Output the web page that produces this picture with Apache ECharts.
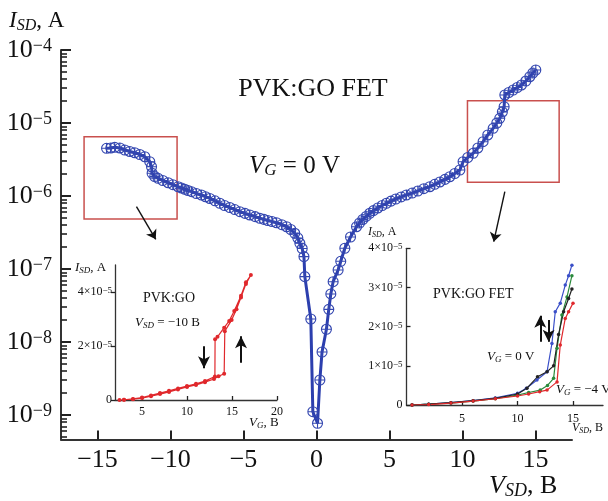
<!DOCTYPE html>
<html>
<head>
<meta charset="utf-8">
<script src="https://cdn.jsdelivr.net/npm/echarts@6.0.0/dist/echarts.min.js"></script>
<style>
html, body { margin: 0; padding: 0; background: #fff; }
#chart { width: 608px; height: 501px; }
</style>
</head>
<body>
<div id="chart"></div>
<script>
var SERIF = '"Liberation Serif","DejaVu Serif",serif';

// main I-V curve, V_G = 0 (log10 of I_SD in A)
var negV = [-14.38,-14.09,-13.82,-13.47,-13.13,-12.79,-12.45,-12.10,-11.76,-11.42,-11.30,-11.26,-11.08,-10.85,-10.53,-10.16,-9.84,-9.48,-9.25,-9.02,-8.80,-8.56,-8.23,-7.88,-7.60,-7.31,-6.95,-6.62,-6.30,-5.94,-5.60,-5.25,-4.90,-4.57,-4.20,-3.88,-3.60,-3.34,-3.05,-2.74,-2.38,-2.05,-1.76,-1.49,-1.28,-1.14,-0.98,-0.86,-0.80,-0.39,-0.25,0.07];
var negLgI = [-5.347,-5.342,-5.333,-5.342,-5.370,-5.390,-5.407,-5.432,-5.462,-5.530,-5.599,-5.689,-5.733,-5.758,-5.788,-5.818,-5.845,-5.873,-5.890,-5.908,-5.925,-5.941,-5.966,-5.986,-6.010,-6.034,-6.066,-6.100,-6.130,-6.158,-6.186,-6.215,-6.238,-6.260,-6.283,-6.305,-6.320,-6.336,-6.350,-6.366,-6.393,-6.421,-6.459,-6.511,-6.575,-6.648,-6.720,-6.830,-7.105,-7.685,-8.955,-9.114];
var posV = [0.23,0.38,0.68,0.84,0.98,1.14,1.48,1.66,1.94,2.33,2.74,2.95,3.17,3.40,3.65,3.90,4.20,4.50,4.79,5.10,5.43,5.80,6.16,6.55,6.94,7.35,7.76,8.10,8.45,8.80,9.13,9.47,9.82,10.04,10.36,10.73,11.05,11.41,11.73,12.10,12.35,12.55,12.73,12.85,12.90,13.17,13.47,13.75,14.04,14.34,14.61,14.82,15.02];
var posLgI = [-8.521,-8.137,-7.826,-7.553,-7.342,-7.174,-7.014,-6.895,-6.716,-6.562,-6.421,-6.370,-6.322,-6.280,-6.237,-6.200,-6.164,-6.130,-6.100,-6.070,-6.041,-6.013,-5.986,-5.960,-5.932,-5.900,-5.873,-5.840,-5.808,-5.773,-5.736,-5.692,-5.644,-5.530,-5.473,-5.415,-5.342,-5.256,-5.164,-5.073,-5.000,-4.936,-4.849,-4.777,-4.616,-4.582,-4.548,-4.514,-4.479,-4.425,-4.366,-4.315,-4.274];
var mainDecades = [-9,-8,-7,-6,-5,-4];
var mainXTicks = [-15,-10,-5,0,5,10,15];
var minorMult = [2,3,4,5,6,7,8,9];

// left inset: PVK:GO, V_SD = -10 B, I_SD (1e-6 A) vs V_G (sweep up then down)
var goVg  = [2.5,3,4,5,6,7,8,9,10,11,12,13,13.5,14.13,14.2,14.96,15.5,16.0,16.55,17.1,16.55,16.0,15.25,14.69,14.13,13.39,13.12,13.1,12,11,10,9,8,7,6,5,4,3];
var goIsd = [0,0.1,0.3,0.7,1.4,2.2,3.0,3.9,4.8,5.6,6.6,7.8,8.8,9.7,25.5,29.6,33.6,38.0,43.0,46.3,43.6,38.6,33.0,29.3,26.8,23.4,22.5,8.7,7.0,6.0,5.2,4.3,3.4,2.6,1.7,0.9,0.4,0.1];
var goYTicks = [0, 2e-5, 4e-5];
var goXTicks = [5,10,15,20];

// right inset: PVK:GO FET, I_SD (1e-6 A) vs V_SD for several V_G
var fetBlueV  = [0.5,2,4,6,8,10,10.8,11.75,12.66,13.1,13.4,13.85,14.3,14.6,14.9];
var fetBlueI  = [0,0.2,0.6,1.1,1.8,3.0,4.3,6.4,8.5,15.7,23.8,26.0,30.6,33.0,35.7];
var fetGreenV = [0.5,2,4,6,8,10,11,12.05,12.7,13.25,13.56,14.0,14.46,14.9];
var fetGreenI = [0,0.2,0.5,1.0,1.6,2.5,3.2,3.8,5.0,6.8,14.5,23.0,27.6,33.0];
var fetBlackV = [0.5,2,4,6,8,10,10.85,11.8,12.66,13.25,13.7,14.15,14.6,14.9];
var fetBlackI = [0,0.2,0.6,1.1,1.7,2.8,4.3,7.2,8.5,10.0,18.0,23.8,27.2,29.6];
var fetRedV   = [0.5,2,4,6,8,10,11,12.0,12.66,13.56,13.85,14.3,14.6,15.0];
var fetRedI   = [0,0.1,0.5,1.0,1.6,2.3,2.8,3.4,3.8,5.9,15.3,22.1,23.8,26.0];
var fetYTicks = [0, 1e-5, 2e-5, 3e-5, 4e-5];
var fetXTicks = [5,10,15];

function pairs(xs, ys, k) {
  var out = [];
  for (var i = 0; i < xs.length; i++) out.push([xs[i], ys[i] * (k || 1)]);
  return out;
}

var minorVals = [];
[-10,-9,-8,-7,-6,-5].forEach(function (d) {
  minorMult.forEach(function (m) {
    var v = d + Math.log10(m);
    if (v > -9.336) minorVals.push(v);
  });
});

function minusStr(v) { return v < 0 ? '\u2212' + (-v) : String(v); }

function subRich(big, small) {
  return {
    i: { fontFamily: SERIF, fontStyle: 'italic', fontSize: big, lineHeight: big + 2, fill: '#111' },
    s: { fontFamily: SERIF, fontStyle: 'italic', fontSize: small, lineHeight: small, verticalAlign: 'bottom', fill: '#111' },
    n: { fontFamily: SERIF, fontSize: big, lineHeight: big + 2, fill: '#111' }
  };
}
function gText(x, y, text, rich, align) {
  return { type: 'text', x: x, y: y, silent: true, z: 10,
    style: { text: text, rich: rich, align: align || 'left', verticalAlign: 'middle', fill: '#111' } };
}
function plainText(x, y, text, size, align) {
  return { type: 'text', x: x, y: y, silent: true, z: 10,
    style: { text: text, fontFamily: SERIF, fontSize: size, align: align || 'left', verticalAlign: 'middle', fill: '#111' } };
}

var supLabel = function (big, small) {
  return {
    b: { fontFamily: SERIF, fontSize: big, lineHeight: big, color: '#111' },
    s: { fontFamily: SERIF, fontSize: small, lineHeight: small, verticalAlign: 'top', color: '#111' }
  };
};

var circlePlus = 'path://M0,10A10,10,0,1,1,20,10A10,10,0,1,1,0,10ZM10,0L10,20M0,10L20,10';
var arrowLine = function (w) { return { color: '#111', width: w, type: 'solid' }; };
var tickStyle = function (w) { return { color: '#222', width: w }; };

var myChart = echarts.init(document.getElementById('chart'));
var option = {
  animation: false,
  grid: [
    { left: 61, top: 50, right: 36, bottom: 61.5 },
    { left: 115, top: 265, width: 162, height: 135 },
    { left: 406.5, top: 248.3, width: 196.5, height: 156.7 },
    // same box as the main grid, only carries the log minor ticks
    { left: 61, top: 50, right: 36, bottom: 61.5 }
  ],
  xAxis: [
    { gridIndex: 0, type: 'value', min: -17.5, max: 17.5,
      axisLine: { onZero: false, lineStyle: { color: '#333', width: 2 } },
      axisTick: { show: true, inside: true, length: 9, customValues: mainXTicks, lineStyle: tickStyle(2) },
      axisLabel: { customValues: mainXTicks, margin: 8, fontFamily: SERIF, fontSize: 26, color: '#111', formatter: minusStr },
      splitLine: { show: false } },
    { gridIndex: 1, type: 'value', min: 2, max: 20,
      axisLine: { onZero: false, lineStyle: { color: '#333', width: 1.3 } },
      axisTick: { show: true, inside: true, length: 4, customValues: goXTicks, lineStyle: tickStyle(1.3) },
      axisLabel: { customValues: goXTicks, margin: 6, fontFamily: SERIF, fontSize: 12, color: '#111' },
      splitLine: { show: false } },
    { gridIndex: 2, type: 'value', min: 0, max: 17.7,
      axisLine: { onZero: false, lineStyle: { color: '#333', width: 1.3 } },
      axisTick: { show: true, inside: true, length: 4, customValues: fetXTicks, lineStyle: tickStyle(1.3) },
      axisLabel: { customValues: fetXTicks, margin: 8, fontFamily: SERIF, fontSize: 12, color: '#111' },
      splitLine: { show: false } },
    { gridIndex: 3, type: 'value', min: -17.5, max: 17.5, show: false }
  ],
  yAxis: [
    { gridIndex: 0, type: 'value', min: -9.336, max: -4,
      axisLine: { onZero: false, lineStyle: { color: '#333', width: 2 } },
      axisTick: { show: true, inside: true, length: 10, customValues: mainDecades, lineStyle: tickStyle(2) },
      axisLabel: { customValues: mainDecades, margin: 9, rich: supLabel(26, 18),
        formatter: function (v) { return '{b|10}{s|' + minusStr(v) + '}'; } },
      splitLine: { show: false } },
    { gridIndex: 3, type: 'value', position: 'left', min: -9.336, max: -4,
      axisLine: { show: false, onZero: false },
      axisTick: { show: true, inside: true, length: 6, customValues: minorVals, lineStyle: tickStyle(1.6) },
      axisLabel: { show: false },
      splitLine: { show: false } },
    { gridIndex: 1, type: 'value', min: 0, max: 5e-5,
      axisLine: { onZero: false, lineStyle: { color: '#333', width: 1.3 } },
      axisTick: { show: true, inside: false, length: 4, customValues: goYTicks, lineStyle: tickStyle(1.3) },
      axisLabel: { customValues: goYTicks, margin: 3, rich: supLabel(12, 9),
        formatter: function (v) { return v === 0 ? '{b|0}' : '{b|' + Math.round(v * 1e5) + '\u00d710}{s|\u22125}'; } },
      splitLine: { show: false } },
    { gridIndex: 2, type: 'value', min: 0, max: 4e-5,
      axisLine: { onZero: false, lineStyle: { color: '#333', width: 1.3 } },
      axisTick: { show: true, inside: true, length: 4, customValues: fetYTicks, lineStyle: tickStyle(1.3) },
      axisLabel: { customValues: fetYTicks, margin: 4, rich: supLabel(12, 9),
        formatter: function (v) { return v === 0 ? '{b|0}' : '{b|' + Math.round(v * 1e5) + '\u00d710}{s|\u22125}'; } },
      splitLine: { show: false } }
  ],
  series: [
    { name: 'V_G = 0 V', type: 'line', xAxisIndex: 0, yAxisIndex: 0,
      data: pairs(negV.concat(posV), negLgI.concat(posLgI)),
      showAllSymbol: true, symbol: circlePlus, symbolSize: 10,
      itemStyle: { color: 'rgba(255,255,255,0)', borderColor: '#3447b0', borderWidth: 1.1 },
      lineStyle: { color: '#2c3fae', width: 3 },
      markArea: { silent: true,
        itemStyle: { color: 'rgba(0,0,0,0)', borderColor: '#c9504e', borderWidth: 1.5 },
        data: [
          [{ coord: [-15.92, -5.188] }, { coord: [-9.55, -6.315] }],
          [{ coord: [10.34, -4.695] }, { coord: [16.62, -5.812] }]
        ] },
      markLine: { silent: true, symbol: ['none', 'arrow'], symbolSize: 9, label: { show: false },
        lineStyle: arrowLine(1.4),
        data: [
          [{ coord: [-12.33, -6.147] }, { coord: [-11.01, -6.593] }],
          [{ coord: [12.9, -5.941] }, { coord: [12.14, -6.626] }]
        ] } },
    { name: 'PVK:GO', type: 'line', xAxisIndex: 1, yAxisIndex: 2,
      data: pairs(goVg, goIsd, 1e-6),
      showAllSymbol: true, symbol: 'circle', symbolSize: 4,
      itemStyle: { color: '#e0282c' }, lineStyle: { color: '#e0282c', width: 1.2 },
      markLine: { silent: true, symbol: ['none', 'arrow'], symbolSize: [9, 12], label: { show: false },
        lineStyle: arrowLine(2),
        data: [
          [{ coord: [11.89, 1.99e-5] }, { coord: [11.89, 1.18e-5] }],
          [{ coord: [16.0, 1.38e-5] }, { coord: [16.0, 2.36e-5] }]
        ] } },
    { name: 'blue', type: 'line', xAxisIndex: 2, yAxisIndex: 3,
      data: pairs(fetBlueV, fetBlueI, 1e-6), showAllSymbol: true, symbol: 'circle', symbolSize: 3.5,
      itemStyle: { color: '#3a4fc8' }, lineStyle: { color: '#3a4fc8', width: 1.2 },
      markLine: { silent: true, symbol: ['none', 'arrow'], symbolSize: [9, 12], label: { show: false },
        lineStyle: arrowLine(2),
        data: [
          [{ coord: [12.05, 1.615e-5] }, { coord: [12.05, 2.28e-5] }],
          [{ coord: [12.8, 2.17e-5] }, { coord: [12.8, 1.615e-5] }]
        ] } },
    { name: 'green', type: 'line', xAxisIndex: 2, yAxisIndex: 3,
      data: pairs(fetGreenV, fetGreenI, 1e-6), showAllSymbol: true, symbol: 'circle', symbolSize: 3.5,
      itemStyle: { color: '#2a8a3c' }, lineStyle: { color: '#2a8a3c', width: 1.2 } },
    { name: 'black', type: 'line', xAxisIndex: 2, yAxisIndex: 3,
      data: pairs(fetBlackV, fetBlackI, 1e-6), showAllSymbol: true, symbol: 'circle', symbolSize: 3.5,
      itemStyle: { color: '#222' }, lineStyle: { color: '#222', width: 1.2 } },
    { name: 'red', type: 'line', xAxisIndex: 2, yAxisIndex: 3,
      data: pairs(fetRedV, fetRedI, 1e-6), showAllSymbol: true, symbol: 'circle', symbolSize: 3.5,
      itemStyle: { color: '#e0282c' }, lineStyle: { color: '#e0282c', width: 1.2 } }
  ],
  graphic: [
    gText(9, 21, '{i|I}{s|SD}{n|, A}', subRich(23, 16)),
    gText(489, 486, '{i|V}{s|SD}{n|, B}', subRich(26, 18)),
    plainText(313, 89, 'PVK:GO FET', 26, 'center'),
    gText(249, 166, '{i|V}{s|G}{n| = 0 V}', subRich(25, 17)),
    gText(75, 268, '{i|I}{s|SD}{n|, A}', subRich(13, 9)),
    gText(249, 423, '{i|V}{s|G}{n|, B}', subRich(13, 9)),
    plainText(169, 298, 'PVK:GO', 14, 'center'),
    gText(135, 323, '{i|V}{s|SD}{n| = \u221210 B}', subRich(13, 9)),
    gText(368, 232, '{i|I}{s|SD}{n|, A}', subRich(12, 8)),
    gText(572, 428, '{i|V}{s|SD}{n|, B}', subRich(12, 8)),
    plainText(433, 294, 'PVK:GO FET', 14),
    gText(487, 357, '{i|V}{s|G}{n| = 0 V}', subRich(13, 9)),
    gText(556, 390, '{i|V}{s|G}{n| = \u22124 V}', subRich(13, 9))
  ]
};
myChart.setOption(option);
</script>
</body>
</html>
